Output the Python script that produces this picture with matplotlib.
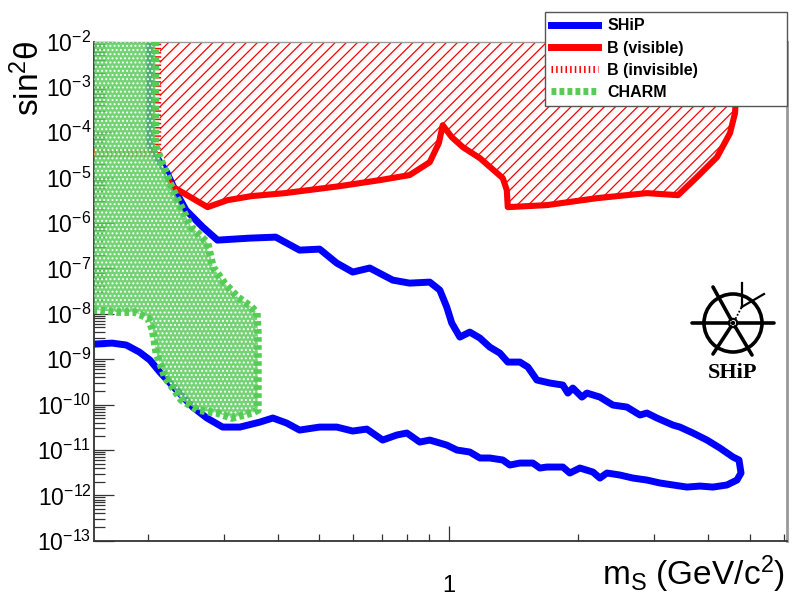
import numpy as np
import matplotlib
matplotlib.use("Agg")
import matplotlib.pyplot as plt
from matplotlib.ticker import FixedLocator, FuncFormatter, NullFormatter, LogLocator
from matplotlib.lines import Line2D
from matplotlib.patches import Circle

plt.rcParams['font.family'] = ['Liberation Sans', 'DejaVu Sans']
plt.rcParams['mathtext.fontset'] = 'custom'
plt.rcParams['mathtext.rm'] = 'Liberation Sans'
plt.rcParams['mathtext.it'] = 'Liberation Sans:italic'
plt.rcParams['mathtext.bf'] = 'Liberation Sans:bold'
plt.rcParams['hatch.linewidth'] = 0.9

# ---------------- data ----------------
# SHiP sensitivity contour (upper branch -> tip -> lower branch)
ship_m = [0.202, 0.202, 0.213, 0.221, 0.231, 0.245, 0.268, 0.290, 0.345, 0.396,
          0.450, 0.501, 0.549, 0.598, 0.655, 0.741, 0.811, 0.903, 0.953, 0.989,
          1.016, 1.061, 1.119, 1.181, 1.245, 1.314, 1.371, 1.463, 1.527, 1.602,
          1.718, 1.841, 1.891, 1.942, 2.039, 2.094, 2.245, 2.406, 2.594, 2.781,
          2.887, 3.046, 3.319, 3.445, 3.693, 3.981, 4.268, 4.576, 4.726, 4.777,
          4.675, 4.431, 4.111, 3.835, 3.577, 3.319, 3.095, 2.887, 2.679, 2.498,
          2.331, 2.245, 2.162, 2.017, 1.911, 1.841, 1.690, 1.628, 1.568, 1.463,
          1.386, 1.335, 1.245, 1.181, 1.119, 1.044, 0.989, 0.903, 0.856, 0.799,
          0.757, 0.702, 0.645, 0.598, 0.549, 0.501, 0.450, 0.420, 0.390, 0.364,
          0.327, 0.298, 0.274, 0.254, 0.233, 0.213, 0.202, 0.191, 0.178, 0.165,
          0.150]
ship_s = [1e-2, 5.20e-5, 2.19e-5, 1.32e-5, 5.31e-6, 1.92e-6, 8.13e-7, 4.20e-7, 4.65e-7, 4.89e-7,
          2.53e-7, 2.66e-7, 1.31e-7, 8.30e-8, 1.02e-7, 5.52e-8, 4.74e-8, 4.99e-8, 3.33e-8, 1.41e-8,
          6.24e-9, 3.07e-9, 3.95e-9, 2.92e-9, 1.85e-9, 1.36e-9, 8.63e-10, 8.63e-10, 6.70e-10, 3.47e-10,
          2.98e-10, 2.69e-10, 1.79e-10, 2.31e-10, 1.46e-10, 1.79e-10, 1.46e-10, 9.75e-11, 8.81e-11, 5.88e-11,
          6.50e-11, 5.05e-11, 3.53e-11, 3.19e-11, 2.36e-11, 1.65e-11, 1.10e-11, 6.98e-12, 6.00e-12, 3.10e-12,
          2.17e-12, 1.69e-12, 1.52e-12, 1.60e-12, 1.52e-12, 1.69e-12, 1.87e-12, 2.17e-12, 2.40e-12, 2.80e-12,
          3.10e-12, 2.40e-12, 3.26e-12, 3.99e-12, 3.10e-12, 4.20e-12, 4.20e-12, 3.99e-12, 5.14e-12, 5.14e-12,
          4.65e-12, 6.00e-12, 6.64e-12, 6.64e-12, 8.99e-12, 9.95e-12, 1.28e-11, 1.65e-11, 1.49e-11, 2.36e-11,
          2.13e-11, 1.65e-11, 2.88e-11, 2.61e-11, 3.19e-11, 3.19e-11, 2.74e-11, 3.91e-11, 5.05e-11, 4.11e-11,
          3.19e-11, 3.19e-11, 5.05e-11, 8.81e-11, 2.08e-10, 5.20e-10, 9.55e-10, 1.43e-9, 2.05e-9, 2.26e-9,
          2.15e-9]

# B (visible) excluded region
bvis_m = [0.213, 0.213, 0.219, 0.224, 0.229, 0.275, 0.306, 0.348, 0.416, 0.558,
          0.691, 0.811, 0.903, 0.948, 0.968, 1.016, 1.078, 1.181, 1.335, 1.364,
          1.371, 1.690, 2.209, 2.887, 3.409, 3.774, 4.201, 4.503, 4.626, 4.675,
          4.675]
bvis_s = [1e-2, 4.04e-5, 2.43e-5, 8.38e-6, 6.18e-6, 2.24e-6, 3.19e-6, 3.92e-6, 4.56e-6, 6.50e-6,
          8.81e-6, 1.14e-5, 2.19e-5, 5.75e-5, 1.43e-4, 7.80e-5, 4.70e-5, 2.69e-5, 9.75e-6, 5.31e-6,
          2.24e-6, 2.48e-6, 3.53e-6, 4.56e-6, 4.11e-6, 1.03e-5, 2.83e-5, 9.55e-5, 2.64e-4, 1.41e-3,
          1e-2]

# B (invisible) bound
binv_m = [0.150, 0.210, 0.210]
binv_s = [3.47e-5, 3.47e-5, 1e-2]

# CHARM excluded region
charm_m = [0.150, 0.208, 0.208, 0.213, 0.219, 0.227, 0.239, 0.252, 0.257, 0.275,
           0.283, 0.301, 0.323, 0.348, 0.358, 0.360, 0.360, 0.348, 0.313, 0.290,
           0.261, 0.239, 0.219, 0.209, 0.205, 0.200, 0.186, 0.170, 0.153, 0.150]
charm_s = [1e-2, 1e-2, 5.20e-5, 2.83e-5, 1.46e-5, 6.18e-6, 2.24e-6, 8.13e-7, 6.98e-7, 3.61e-7,
           1.07e-7, 4.74e-8, 2.33e-8, 1.41e-8, 1.04e-8, 3.76e-9, 7.57e-11, 6.50e-11, 5.05e-11, 6.50e-11,
           7.57e-11, 1.26e-10, 4.04e-10, 1.36e-9, 4.38e-9, 8.04e-9, 1.09e-8, 1.09e-8, 1.20e-8, 1.20e-8]

x_minor_ticks = [0.2, 0.3, 0.4, 0.5, 0.6, 0.7, 0.8, 0.9, 2, 3, 4, 5, 6]
x_major_ticks = [1]
legend_labels = ["SHiP", "B (visible)", "B (invisible)", "CHARM"]

# ---------------- figure ----------------
W, H = 806, 596
fig = plt.figure(figsize=(W / 100, H / 100), dpi=100)
ax = fig.add_axes([94.3 / W, 1 - 540.7 / H, (787 - 94.3) / W, (540.7 - 41.5) / H])
ax.set_xscale('log')
ax.set_yscale('log')
ax.set_xlim(0.15, 6.11)
ax.set_ylim(1e-13, 1e-2)

blue = '#0000ff'
red = '#ff0000'
green = '#55cc55'

# B visible hatched region
ax.fill(bvis_m, bvis_s, facecolor='none', edgecolor=red, hatch='///', lw=0, zorder=1)
ax.plot(bvis_m[3:], bvis_s[3:], color=red, lw=4.4, solid_joinstyle='round', zorder=3)
# B invisible
ax.plot(binv_m, binv_s, color=red, lw=6.0, linestyle=(0, (0.18, 0.32)), zorder=3)
# SHiP
ax.plot(ship_m, ship_s, color=blue, lw=5.0, solid_joinstyle='round',
        solid_capstyle='round', zorder=2)
# CHARM
ax.fill(charm_m, charm_s, facecolor='#5ccc5c', edgecolor='none', alpha=0.85, zorder=4)
ax.fill(charm_m, charm_s, facecolor='none', edgecolor='white', hatch='....', lw=0, zorder=4)
ax.plot(charm_m[1:], charm_s[1:], color=green, lw=5.5, linestyle=(0, (0.6, 0.45)), zorder=5)

# ticks
ax.xaxis.set_major_locator(FixedLocator(x_major_ticks))
ax.xaxis.set_minor_locator(FixedLocator(x_minor_ticks))
ax.xaxis.set_major_formatter(FuncFormatter(lambda v, p: '%g' % v))
ax.xaxis.set_minor_formatter(NullFormatter())
ax.yaxis.set_major_locator(FixedLocator([10.0 ** e for e in range(-13, -1)]))
ax.yaxis.set_minor_locator(LogLocator(base=10, subs=np.arange(2, 10), numticks=300))
ax.yaxis.set_major_formatter(FuncFormatter(
    lambda v, p: r'$\mathregular{10^{%d}}$' % int(round(np.log10(v)))))
ax.yaxis.set_minor_formatter(NullFormatter())

tc = '#333333'
ax.tick_params(axis='both', which='both', direction='in', color=tc, width=0.9,
               top=False, right=False)
ax.tick_params(axis='y', which='major', length=14.5, pad=2, labelsize=16.5)
ax.tick_params(axis='y', which='minor', length=8)
ax.tick_params(axis='x', which='major', length=11, pad=25, labelsize=17)
ax.tick_params(axis='x', which='minor', length=5)

for s in ['left', 'bottom']:
    ax.spines[s].set_color('#333333')
    ax.spines[s].set_linewidth(1.3)
ax.spines['top'].set_color('#999999')
ax.spines['top'].set_linewidth(1.0)
ax.spines['right'].set_color('#999999')
ax.spines['right'].set_linewidth(2.0)

# axis titles
fig.text(29 / W, 1 - 40 / H, 'sin$^{2}$θ', rotation=90, ha='center', va='top',
         fontsize=24)
fig.text(785 / W, 1 - 585 / H, r'm$_{\mathregular{S}}$ (GeV/c$^{2}$)', ha='right',
         va='baseline', fontsize=24)

# legend
handles = [
    Line2D([], [], color=blue, lw=5),
    Line2D([], [], color=red, lw=5),
    Line2D([], [], color=red, lw=5, linestyle=(0, (0.22, 0.45))),
    Line2D([], [], color=green, lw=5, linestyle=(0, (0.7, 0.45))),
]
leg = ax.legend(handles, legend_labels, loc='upper left',
                bbox_to_anchor=(545 / W, 1 - 104 / H, (787 - 545) / W, (104 - 12) / H),
                bbox_transform=fig.transFigure, mode='expand', fancybox=False,
                framealpha=1, edgecolor='#555555', borderpad=0.4, labelspacing=0.45,
                handlelength=2.9, handletextpad=0.6, prop={'weight': 'bold', 'size': 11.5},
                borderaxespad=0)
leg.get_frame().set_linewidth(1.0)
leg.set_zorder(10)

# SHiP logo (decorative)
lax = fig.add_axes([(733 - 50) / W, 1 - 395 / H, 100 / W, 115 / H])
lax.set_xlim(-50, 50)
lax.set_ylim(-72, 43)
lax.axis('off')
k = 'black'
lax.add_patch(Circle((0, 0), 29, fill=False, ec=k, lw=2.6))
lax.add_patch(Circle((0, 0), 4.2, fill=False, ec=k, lw=1.5))
lax.add_patch(Circle((0, 0), 1.5, fc=k, ec=k))
lax.plot([-41, -4.5], [0, 0], color=k, lw=2.6, solid_capstyle='round')
lax.plot([4.5, 41], [0, 0], color=k, lw=2.6, solid_capstyle='round')
lax.plot([-20, -2.2], [36, 3.8], color=k, lw=2.6, solid_capstyle='round')
lax.plot([2.2, 19], [-3.8, -32], color=k, lw=2.6, solid_capstyle='round')
lax.plot([-20, -2.2], [-31, -3.8], color=k, lw=2.6, solid_capstyle='round')
lax.plot([2.5, 8.7], [4.2, 16], color=k, lw=1.3, linestyle=(0, (1, 1)))
lax.plot([8.7, 8.7], [16, 40], color=k, lw=1.6)
lax.plot([8.7, 31], [16, 29], color=k, lw=1.6)
lax.text(0, -50, 'SHiP', ha='center', va='center', fontsize=16, fontweight='bold',
         family=['Liberation Serif', 'DejaVu Serif'])

fig.savefig('out.png', dpi=100)
